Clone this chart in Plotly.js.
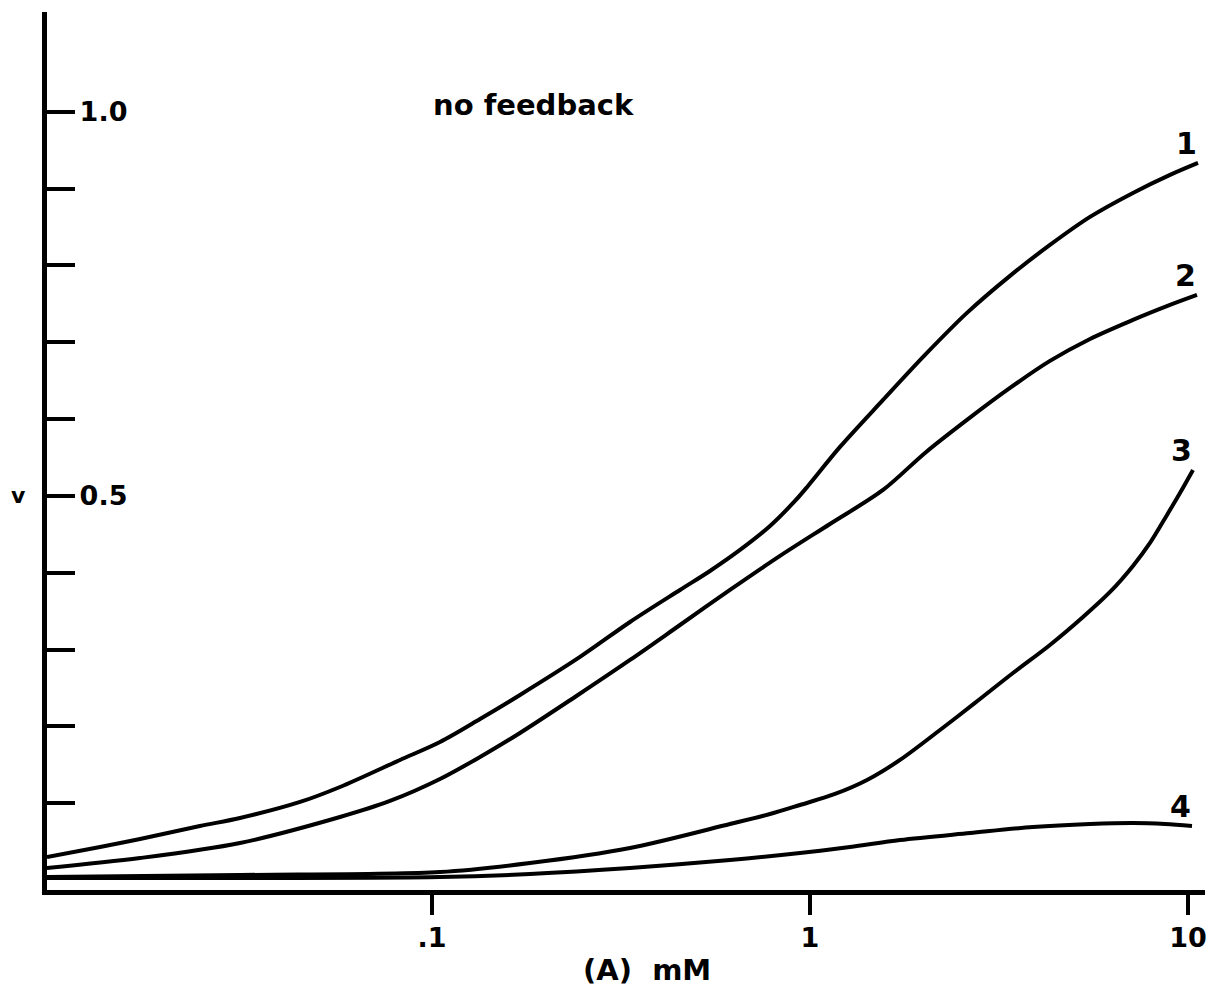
<!DOCTYPE html>
<html>
<head>
<meta charset="utf-8">
<script src="https://cdn.plot.ly/plotly-3.0.1.min.js"></script>
<style>
  html, body { margin: 0; padding: 0; background: #ffffff; }
  #chart { width: 1221px; height: 996px; }
</style>
</head>
<body>
<div id="chart"></div>
<script>
// Substrate concentration (A), mM, and reaction velocity v for four enzyme curves
const conc1 = [0.00958, 0.01324, 0.01689, 0.02432, 0.03105, 0.04477, 0.0571, 0.0823, 0.105, 0.134, 0.1709,
               0.2463, 0.3341, 0.453, 0.5436, 0.6528, 0.7838, 0.9127, 0.9878, 1.2005, 1.5605, 2.015,
               2.6018, 3.3814, 4.3135, 5.5055, 7.1517, 8.965, 10.629];
const v1    = [0.0299, 0.0430, 0.0534, 0.0703, 0.0807, 0.1016, 0.1211, 0.1563, 0.1797, 0.2096, 0.2409,
               0.2904, 0.3359, 0.3776, 0.4023, 0.4297, 0.4609, 0.4935, 0.5130, 0.5638, 0.6250, 0.6836,
               0.7383, 0.7865, 0.8268, 0.8633, 0.8945, 0.9180, 0.9336];

const conc2 = [0.00958, 0.01689, 0.03105, 0.0571, 0.0774, 0.105, 0.134, 0.1709, 0.2389, 0.3341, 0.453,
               0.6141, 0.8329, 1.1294, 1.5605, 2.015, 2.6018, 3.3814, 4.3135, 5.5055, 7.1517, 8.965, 10.563];
const v2    = [0.0156, 0.0286, 0.0482, 0.0820, 0.1029, 0.1315, 0.1602, 0.1914, 0.2383, 0.2865, 0.3320,
               0.3776, 0.4219, 0.4635, 0.5078, 0.5560, 0.5990, 0.6406, 0.6758, 0.7044, 0.7292, 0.7487, 0.7617];

const conc3 = [0.00958, 0.03105, 0.105, 0.1816, 0.3341, 0.6141, 0.7838, 0.9408, 1.1644, 1.4154, 1.7302,
               2.2077, 2.7318, 3.4435, 4.3135, 5.2761, 6.2199, 7.1517, 7.9341, 8.801, 9.5238, 10.309];
const v3    = [0.0039, 0.0065, 0.0104, 0.0221, 0.0417, 0.0729, 0.0859, 0.0977, 0.1120, 0.1302, 0.1563,
               0.1953, 0.2305, 0.2695, 0.3060, 0.3424, 0.3750, 0.4089, 0.4388, 0.4753, 0.5039, 0.5339];

const conc4 = [0.00958, 0.03105, 0.105, 0.1816, 0.3341, 0.6141, 0.9408, 1.2758, 1.7302, 2.6502, 3.8893,
               5.5055, 7.1517, 8.6975, 10.247];
const v4    = [0.0026, 0.0026, 0.0039, 0.0078, 0.0156, 0.0260, 0.0352, 0.0430, 0.0521, 0.0612, 0.0690,
               0.0729, 0.0742, 0.0729, 0.0703];

const curveNames = ['1', '2', '3', '4'];
const xTickVals = [0.1, 1, 10];
const xTickText = ['.1', '1', '10'];
const yTickVals = [0.1, 0.2, 0.3, 0.4, 0.5, 0.6, 0.7, 0.8, 0.9, 1.0];
const yTickText = ['', '', '', '', '0.5', '', '', '', '', '1.0'];

const ink = '#000000';
const fontFam = '"DejaVu Sans", "Open Sans", sans-serif';

const series = [[conc1, v1], [conc2, v2], [conc3, v3], [conc4, v4]];
const traces = series.map(([x, y], i) => ({
  type: 'scatter',
  mode: 'lines',
  name: curveNames[i],
  x: x,
  y: y,
  line: { color: ink, width: 4, shape: 'spline', smoothing: 0.9 },
  hoverinfo: 'skip'
}));

// curve numbers sit just above and left of each curve's right end
const lastOf = a => a[a.length - 1];
const curveLabels = series.map(([x, y], i) => ({
  x: Math.log10(lastOf(x) * 0.93),
  y: lastOf(y),
  xref: 'x', yref: 'y',
  text: '<b>' + curveNames[i] + '</b>',
  showarrow: false,
  xanchor: 'center', yanchor: 'bottom',
  font: { family: fontFam, size: 30, color: ink }
}));

const layout = {
  width: 1221,
  height: 996,
  margin: { l: 47, r: 16, t: 12, b: 106 },
  paper_bgcolor: '#ffffff',
  plot_bgcolor: '#ffffff',
  showlegend: false,
  xaxis: {
    type: 'log',
    range: [-2.0185, 1.045],
    showgrid: false,
    zeroline: false,
    showline: true,
    linecolor: ink,
    linewidth: 5,
    ticks: 'outside',
    ticklen: 20,
    tickwidth: 4,
    tickcolor: ink,
    tickvals: xTickVals,
    ticktext: xTickText,
    tickfont: { family: fontFam, size: 27, color: ink, weight: 'bold' }
  },
  yaxis: {
    range: [-0.013, 1.130],
    showgrid: false,
    zeroline: false,
    showline: true,
    linecolor: ink,
    linewidth: 5,
    ticks: 'inside',
    ticklen: 28,
    tickwidth: 4,
    tickcolor: ink,
    tickvals: yTickVals,
    ticktext: yTickText,
    ticklabelposition: 'inside',
    ticklabelstandoff: 7,
    tickfont: { family: fontFam, size: 27, color: ink, weight: 'bold' }
  },
  annotations: [
    {
      x: 0.42, y: 0.894, xref: 'paper', yref: 'paper',
      text: '<b>no feedback</b>', showarrow: false,
      xanchor: 'center', yanchor: 'middle',
      font: { family: fontFam, size: 29, color: ink }
    },
    {
      x: 0.518, y: -0.091, xref: 'paper', yref: 'paper',
      text: '<b>(A)  mM</b>', showarrow: false,
      xanchor: 'center', yanchor: 'middle',
      font: { family: fontFam, size: 29, color: ink }
    },
    {
      x: -0.025, y: 0.5, xref: 'paper', yref: 'y',
      text: '<b>v</b>', showarrow: false,
      xanchor: 'center', yanchor: 'middle',
      font: { family: fontFam, size: 22, color: ink }
    }
  ].concat(curveLabels)
};

Plotly.newPlot('chart', traces, layout, { staticPlot: true, displayModeBar: false });
</script>
</body>
</html>
